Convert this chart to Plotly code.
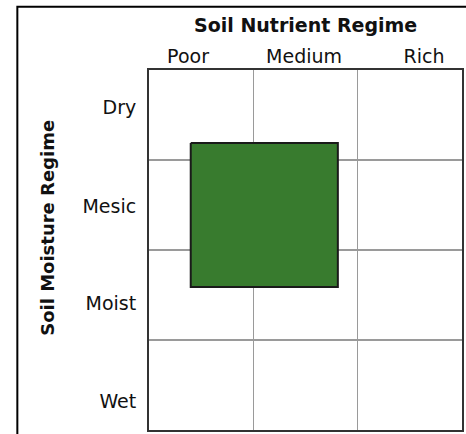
import plotly.graph_objects as go

# Categories
nutrient_labels = ["Poor", "Medium", "Rich"]
moisture_labels = ["Dry", "Mesic", "Moist", "Wet"]

# Label positions along the axes (axis units, 1 unit per category)
nutrient_label_pos = [0.374, 1.486, 2.636]
moisture_label_pos = [0.42, 1.51, 2.59, 3.68]

# Category grid boundaries
nutrient_bounds = [1, 2]
moisture_bounds = [1, 2, 3]

# Extent of the occupied region (axis units)
nutrient_range = [0.40, 1.81]
moisture_range = [0.81, 2.41]

FONT = "DejaVu Sans"

rx = [nutrient_range[0], nutrient_range[1], nutrient_range[1], nutrient_range[0], nutrient_range[0]]
ry = [moisture_range[0], moisture_range[0], moisture_range[1], moisture_range[1], moisture_range[0]]

fig = go.Figure()
fig.add_trace(go.Scatter(
    x=rx, y=ry, mode="lines", fill="toself",
    fillcolor="#387B2E", line=dict(color="#1a1a1a", width=2),
    hoverinfo="skip", showlegend=False,
))

fig.update_layout(
    width=466, height=434,
    margin=dict(l=149, r=2, t=70, b=2),
    paper_bgcolor="white", plot_bgcolor="white",
    font=dict(family=FONT, color="black"),
    xaxis=dict(
        range=[0, 3], side="top", fixedrange=True,
        tickmode="array", tickvals=nutrient_label_pos, ticktext=nutrient_labels,
        tickfont=dict(size=19, family=FONT, color="#111"),
        ticks="", showgrid=False, zeroline=False,
        minor=dict(tickmode="array", tickvals=nutrient_bounds, showgrid=True,
                   gridcolor="#9a9a9a", gridwidth=1.5, ticks=""),
        showline=True, linecolor="#333", linewidth=2, mirror=True,
        ticklabelstandoff=-3,
    ),
    yaxis=dict(
        range=[4, 0], fixedrange=True,
        tickmode="array", tickvals=moisture_label_pos, ticktext=moisture_labels,
        tickfont=dict(size=19, family=FONT, color="#111"),
        ticks="", showgrid=False, zeroline=False,
        minor=dict(tickmode="array", tickvals=moisture_bounds, showgrid=True,
                   gridcolor="#9a9a9a", gridwidth=1.5, ticks=""),
        showline=True, linecolor="#333", linewidth=2, mirror=True,
        ticklabelstandoff=7,
    ),
    annotations=[
        dict(text="<b>Soil Nutrient Regime</b>", xref="paper", yref="paper",
             x=0.5, y=(432 - 25) / 362, xanchor="center", yanchor="middle",
             showarrow=False, font=dict(size=19, family=FONT, color="#111")),
        dict(text="<b>Soil Moisture Regime</b>", xref="paper", yref="paper",
             x=(46 - 149) / 315, y=(432 - 229) / 362, xanchor="center", yanchor="middle",
             textangle=-90, showarrow=False, font=dict(size=18, family=FONT, color="#111")),
    ],
    shapes=[
        dict(type="rect", xref="paper", yref="paper",
             x0=(16.5 - 149) / 315, x1=1.2, y0=-0.2, y1=(432 - 6.5) / 362,
             line=dict(color="black", width=2), fillcolor="rgba(0,0,0,0)", layer="below"),
    ],
)

fig.write_html(
    "out.html",
    config={"displayModeBar": False, "staticPlot": True},
    post_script="document.body.style.margin='0';document.body.style.overflow='hidden';",
)
